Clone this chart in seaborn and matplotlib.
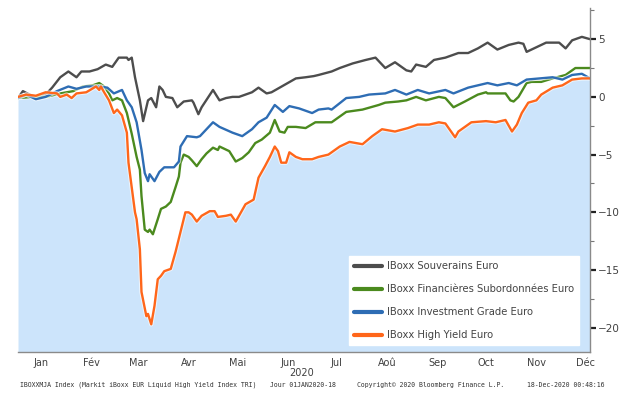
import pandas as pd
import matplotlib
matplotlib.use('Agg')
import matplotlib.pyplot as plt
import matplotlib.ticker as mticker
import matplotlib.patheffects as pe
import matplotlib.transforms as mtransforms
import seaborn as sns

sns.set_style('white')

# perf. cumulée (%) depuis le 1er janvier 2020
sov_dates = ['01-01', '01-04', '01-08', '01-12', '01-18', '01-22', '01-27', '02-01', '02-06', '02-09',
             '02-14', '02-19', '02-24', '02-28', '03-03', '03-08', '03-09', '03-11', '03-13', '03-16',
             '03-18', '03-21', '03-23', '03-26', '03-28', '03-30', '04-01', '04-05', '04-08', '04-12',
             '04-17', '04-18', '04-21', '04-23', '04-30', '05-04', '05-08', '05-12', '05-16', '05-20',
             '05-24', '05-28', '06-02', '06-05', '06-10', '06-15', '06-20', '06-26', '07-01', '07-04',
             '07-12', '07-17', '07-25', '08-02', '08-08', '08-14', '08-20', '08-27', '08-30', '09-02',
             '09-08', '09-13', '09-20', '09-28', '10-04', '10-10', '10-16', '10-22', '10-29', '11-04',
             '11-07', '11-09', '11-15', '11-21', '11-29', '12-03', '12-07', '12-13', '12-18']
sov_vals = [-0.1, 0.5, 0.2, 0.0, 0.2, 0.8, 1.7, 2.2, 1.7, 2.2,
            2.2, 2.4, 2.8, 2.6, 3.4, 3.4, 3.2, 3.4, 1.7, -0.3,
            -2.1, -0.3, -0.1, -0.9, 0.9, 0.6, 0.0, -0.1, -0.9, -0.4,
            -0.3, -0.5, -1.5, -0.9, 0.6, -0.3, -0.1, 0.0, 0.0, 0.2,
            0.4, 0.8, 0.3, 0.4, 0.8, 1.2, 1.6, 1.7, 1.8, 1.9,
            2.2, 2.5, 2.9, 3.2, 3.4, 2.5, 3.0, 2.3, 2.2, 2.8,
            2.6, 3.2, 3.4, 3.8, 3.8, 4.2, 4.7, 4.1, 4.5, 4.7,
            4.6, 3.9, 4.3, 4.7, 4.7, 4.2, 4.9, 5.2, 5.0]

fin_dates = ['01-01', '01-10', '01-18', '01-27', '02-04', '02-10', '02-16', '02-20', '02-23', '02-26',
             '02-28', '03-02', '03-05', '03-08', '03-11', '03-14', '03-16', '03-17', '03-19', '03-21',
             '03-22', '03-24', '03-27', '03-29', '04-01', '04-04', '04-07', '04-09', '04-10', '04-12',
             '04-15', '04-17', '04-20', '04-23', '04-26', '04-30', '05-03', '05-04', '05-10', '05-14',
             '05-18', '05-22', '05-26', '05-30', '06-04', '06-07', '06-10', '06-13', '06-15', '06-20',
             '06-26', '07-02', '07-12', '07-21', '07-31', '08-10', '08-14', '08-22', '08-27', '09-02',
             '09-08', '09-16', '09-20', '09-25', '10-02', '10-10', '10-15', '10-16', '10-27', '10-30',
             '11-01', '11-04', '11-09', '11-12', '11-18', '11-25', '12-03', '12-09', '12-18']
fin_vals = [-0.1, 0.0, 0.0, 0.3, 0.5, 0.9, 1.0, 1.2, 0.9, 0.3,
            -0.3, -0.1, -0.3, -1.4, -3.2, -5.2, -6.3, -8.6, -11.5, -11.7,
            -11.5, -11.9, -10.6, -9.7, -9.5, -9.1, -7.8, -6.9, -5.7, -5.0,
            -5.2, -5.5, -6.0, -5.4, -4.9, -4.4, -4.6, -4.3, -4.7, -5.6,
            -5.3, -4.8, -4.0, -3.7, -3.1, -2.0, -3.0, -3.1, -2.6, -2.6,
            -2.7, -2.2, -2.2, -1.3, -1.1, -0.7, -0.5, -0.4, -0.3, 0.0,
            -0.3, 0.0, -0.1, -0.9, -0.4, 0.2, 0.4, 0.3, 0.3, -0.3,
            -0.4, 0.0, 1.2, 1.3, 1.3, 1.6, 1.9, 2.5, 2.5]

ig_dates = ['01-01', '01-06', '01-12', '01-18', '01-25', '02-01', '02-06', '02-12', '02-20', '02-25',
            '02-29', '03-05', '03-08', '03-11', '03-14', '03-17', '03-19', '03-21', '03-22', '03-25',
            '03-28', '03-31', '04-06', '04-09', '04-10', '04-14', '04-20', '04-22', '04-26', '04-30',
            '05-04', '05-12', '05-18', '05-24', '05-28', '06-02', '06-07', '06-12', '06-16', '06-22',
            '06-30', '07-04', '07-10', '07-12', '07-21', '07-29', '08-04', '08-14', '08-20', '08-27',
            '09-03', '09-10', '09-20', '09-25', '10-04', '10-16', '10-22', '10-29', '11-03', '11-09',
            '11-17', '11-25', '12-01', '12-07', '12-13', '12-18']
ig_vals = [-0.1, 0.2, -0.2, 0.0, 0.5, 0.9, 0.7, 0.9, 0.9, 0.8,
           0.3, 0.6, -0.3, -0.9, -2.2, -4.6, -6.6, -7.3, -6.7, -7.3,
           -6.5, -6.1, -6.1, -5.6, -4.3, -3.4, -3.5, -3.4, -2.8, -2.2,
           -2.6, -3.1, -3.4, -2.8, -2.2, -1.8, -0.7, -1.3, -0.8, -1.0,
           -1.4, -1.1, -1.0, -1.1, -0.1, 0.0, 0.2, 0.3, 0.6, 0.2,
           0.6, 0.3, 0.6, 0.3, 0.8, 1.2, 1.0, 1.2, 1.0, 1.5,
           1.6, 1.7, 1.5, 1.9, 2.0, 1.6]

hy_dates = ['01-01', '01-06', '01-12', '01-18', '01-25', '01-27', '01-31', '02-03', '02-06', '02-12',
            '02-18', '02-20', '02-21', '02-23', '02-26', '02-29', '03-02', '03-05', '03-08', '03-09',
            '03-13', '03-14', '03-16', '03-17', '03-20', '03-21', '03-23', '03-25', '03-27', '03-29',
            '03-31', '04-04', '04-07', '04-10', '04-13', '04-15', '04-17', '04-20', '04-23', '04-28',
            '05-01', '05-03', '05-08', '05-11', '05-14', '05-20', '05-25', '05-28', '06-01', '06-04',
            '06-07', '06-09', '06-11', '06-14', '06-16', '06-20', '06-24', '06-30', '07-04', '07-10',
            '07-17', '07-23', '07-31', '08-06', '08-12', '08-20', '08-28', '09-03', '09-10', '09-16',
            '09-20', '09-24', '09-26', '09-28', '10-06', '10-15', '10-21', '10-27', '10-31', '11-03',
            '11-06', '11-10', '11-15', '11-18', '11-25', '12-01', '12-07', '12-13', '12-18']
hy_vals = [0.0, 0.2, 0.1, 0.4, 0.3, 0.0, 0.2, -0.1, 0.3, 0.4,
           0.9, 0.6, 0.9, 0.4, -0.3, -1.4, -1.1, -1.6, -3.1, -5.7,
           -10.0, -10.6, -13.2, -16.9, -19.0, -18.8, -19.7, -18.1, -15.8, -15.5,
           -15.1, -14.9, -13.4, -11.7, -10.0, -10.0, -10.2, -10.8, -10.3, -9.9,
           -9.9, -10.4, -10.3, -10.2, -10.8, -9.3, -8.9, -7.0, -6.0, -5.2,
           -4.3, -4.7, -5.7, -5.7, -4.8, -5.2, -5.4, -5.4, -5.2, -5.0,
           -4.3, -3.9, -4.1, -3.4, -2.8, -3.0, -2.7, -2.4, -2.4, -2.2,
           -2.3, -3.1, -3.5, -3.0, -2.2, -2.1, -2.2, -2.0, -3.0, -2.4,
           -1.4, -0.5, -0.3, 0.2, 0.8, 1.0, 1.5, 1.6, 1.6]

names = ['IBoxx Souverains Euro', 'IBoxx Financières Subordonnées Euro',
         'IBoxx Investment Grade Euro', 'IBoxx High Yield Euro']
colors = ['#4d4d4d', '#4b8a1e', '#2e6db4', '#ff661a']

months = ['Jan', 'Fév', 'Mar', 'Avr', 'Mai', 'Jun', 'Jul', 'Aoû', 'Sep', 'Oct', 'Nov', 'Déc']

frames = []
for name, d, v in zip(names, [sov_dates, fin_dates, ig_dates, hy_dates],
                      [sov_vals, fin_vals, ig_vals, hy_vals]):
    frames.append(pd.DataFrame({'date': pd.to_datetime(['2020-' + x for x in d]),
                                'perf': v, 'serie': name}))
df = pd.concat(frames, ignore_index=True)

ymin, ymax = -22.1, 7.7

fig = plt.figure(figsize=(6.4, 4.08), dpi=100)
ax = fig.add_axes([18 / 640, 1 - 352 / 408, 572 / 640, 344 / 408])

# zone bleue sous le High Yield
hy = df[df.serie == names[3]]
ax.fill_between(hy.date, hy.perf, ymin, color='#cce4fb', lw=0, zorder=0)

sns.lineplot(data=df, x='date', y='perf', hue='serie', hue_order=names,
             palette=dict(zip(names, colors)), lw=1.7, estimator=None, ax=ax)
for ln in ax.get_lines():
    ln.set_path_effects([pe.Stroke(linewidth=3.2, foreground='white', alpha=0.6), pe.Normal()])

ax.set_xlim(pd.Timestamp('2020-01-01'), pd.Timestamp('2020-12-18'))
ax.set_ylim(ymin, ymax)
ax.set_xlabel('')
ax.set_ylabel('')

# axe y a droite
ax.yaxis.tick_right()
ax.set_yticks([-20, -15, -10, -5, 0, 5])
ax.yaxis.set_minor_locator(mticker.MultipleLocator(2.5))
ax.tick_params(axis='y', which='major', direction='out', length=4, width=1.6,
               color='#222222', labelsize=7.5, labelcolor='#404040', pad=2)
ax.tick_params(axis='y', which='minor', direction='out', length=3, width=0.8, color='#777777')

# axe x : traits aux debuts de mois, libelles au 15
month_starts = pd.date_range('2020-01-01', '2020-12-01', freq='MS')
ax.set_xticks(month_starts)
ax.set_xticklabels([''] * len(month_starts))
ax.set_xticks(month_starts + pd.Timedelta(days=14), minor=True)
ax.set_xticklabels(months, minor=True)
ax.tick_params(axis='x', which='major', direction='out', length=3, width=0.8, color='#777777')
ax.tick_params(axis='x', which='minor', length=0, labelsize=7, labelcolor='#404040', pad=4)

for s in ['left', 'top']:
    ax.spines[s].set_visible(False)
for s in ['right', 'bottom']:
    ax.spines[s].set_color('#8a8a8a')
    ax.spines[s].set_linewidth(1)

trans = mtransforms.blended_transform_factory(ax.transData, ax.transAxes)
ax.text(pd.Timestamp('2020-07-01'), -0.061, '2020', transform=trans, ha='right', va='center',
        fontsize=7, color='#404040')

leg = ax.legend(loc='lower left', bbox_to_anchor=(0.579, 0.02), borderaxespad=0,
                frameon=True, fancybox=False, framealpha=1, edgecolor='white',
                fontsize=7.2, labelspacing=1.3, handlelength=2.8, handletextpad=0.45,
                borderpad=0.5)
for h in leg.get_lines():
    h.set_linewidth(3)
for t in leg.get_texts():
    t.set_color('#444444')

# pied de page Bloomberg
foot = dict(fontsize=4.7, family='DejaVu Sans Mono', color='#333333', va='center')
fy = 1 - 385 / 408
fig.text(20 / 640, fy, 'IBOXXMJA Index (Markit iBoxx EUR Liquid High Yield Index TRI)', **foot)
fig.text(270 / 640, fy, 'Jour 01JAN2020-18', **foot)
fig.text(357 / 640, fy, 'Copyright© 2020 Bloomberg Finance L.P.', **foot)
fig.text(527 / 640, fy, '18-Dec-2020 00:48:16', **foot)

fig.savefig('out.png', dpi=100)
